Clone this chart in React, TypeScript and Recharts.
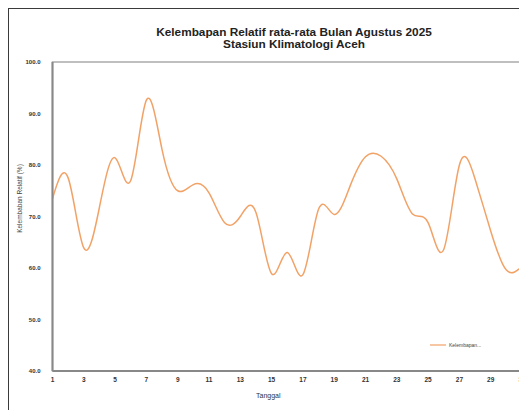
import { LineChart, Line, XAxis, YAxis, Legend, ReferenceArea, Label } from 'recharts';

const days = [1, 2, 3, 4, 5, 6, 7, 8, 9, 10, 11, 12, 13, 14, 15, 16, 17, 18, 19, 20, 21, 22, 23, 24, 25, 26, 27, 28, 29, 30, 31];
const humidity = [
  73.5, 77.5, 63.9, 71.8, 81.4, 77.0, 92.6, 83.0, 75.0, 76.2,
  74.6, 68.8, 70.0, 70.8, 58.9, 63.0, 58.7, 71.4, 70.4, 75.8,
  81.6, 81.7, 77.3, 70.5, 68.8, 63.6, 80.0, 77.3, 67.2, 59.6, 60.3,
];
const xTicks = [1, 3, 5, 7, 9, 11, 13, 15, 17, 19, 21, 23, 25, 27, 29, 31];
const yTicks = [40, 50, 60, 70, 80, 90, 100];

const FONT = '"Liberation Sans", Arial, sans-serif';
const LINE = '#F2A266';

const data = days.map((d, i) => ({ day: d, rh: humidity[i] }));

function LegendBox() {
  return (
    <div style={{ display: 'flex', alignItems: 'center', fontFamily: FONT, fontSize: 5, color: '#444' }}>
      <svg width={16} height={4}>
        <line x1={0} y1={2} x2={16} y2={2} stroke={LINE} strokeWidth={1.2} />
      </svg>
      <span style={{ marginLeft: 3 }}>Kelembapan...</span>
    </div>
  );
}

export default function App() {
  return (
    <div
      style={{
        position: 'relative',
        width: 519,
        height: 402,
        background: '#fff',
        boxShadow: 'inset 1px 1px 0 #3a3a3a, -2px 0 4px rgba(0,0,0,0.3)',
        fontFamily: FONT,
      }}
    >
      <div
        style={{
          position: 'absolute',
          left: 0,
          top: 17.5,
          width: 572,
          textAlign: 'center',
          fontWeight: 'bold',
          fontSize: 11.8,
          lineHeight: '12.5px',
          color: '#222',
        }}
      >
        <div>Kelembapan Relatif rata-rata Bulan Agustus 2025</div>
        <div>Stasiun Klimatologi Aceh</div>
      </div>
      <LineChart width={519} height={402} data={data} margin={{ top: 54, right: 5, bottom: 0, left: 0 }}>
        <ReferenceArea x1={1} x2={31} y1={40} y2={100} fill="none" stroke="#aaa" strokeWidth={1.5} />
        <XAxis
          type="number"
          dataKey="day"
          domain={[1, 31]}
          ticks={xTicks}
          interval={0}
          height={39}
          tickLine={false}
          tickSize={4}
          tickMargin={2}
          axisLine={{ stroke: '#888', strokeWidth: 2 }}
          tick={{ fontSize: 6.5, fontWeight: 'bold', fill: '#333', fontFamily: FONT }}
        >
          <Label value="Tanggal" position="insideBottom" offset={12} dx={-19} fill="#333" fontSize={7} fontFamily={FONT} />
        </XAxis>
        <YAxis
          type="number"
          domain={[40, 100]}
          ticks={yTicks}
          width={44.5}
          tickLine={false}
          tickSize={6}
          tickMargin={6}
          axisLine={{ stroke: '#888', strokeWidth: 2 }}
          tickFormatter={(v: number) => v.toFixed(1)}
          tick={{ fontSize: 6, fontWeight: 'bold', fill: '#333', fontFamily: FONT }}
        >
          <Label
            content={({ viewBox }: any) => {
              const cx = viewBox.x + 11;
              const cy = viewBox.y + viewBox.height / 2 - 18;
              return (
                <text
                  x={cx}
                  y={cy}
                  transform={`rotate(-90 ${cx} ${cy})`}
                  textAnchor="middle"
                  dominantBaseline="central"
                  style={{ fontSize: 6.5, fill: '#444', fontFamily: FONT }}
                >
                  Kelembaban Relatif (%)
                </text>
              );
            }}
          />
        </YAxis>
        <Legend
          layout="horizontal"
          verticalAlign="middle"
          align="center"
          content={() => <LegendBox />}
          wrapperStyle={{ position: 'absolute', left: 422, top: 334, width: 80 }}
        />
        <Line
          type="natural"
          dataKey="rh"
          stroke={LINE}
          strokeWidth={1.5}
          dot={false}
          isAnimationActive={false}
        />
      </LineChart>
    </div>
  );
}
